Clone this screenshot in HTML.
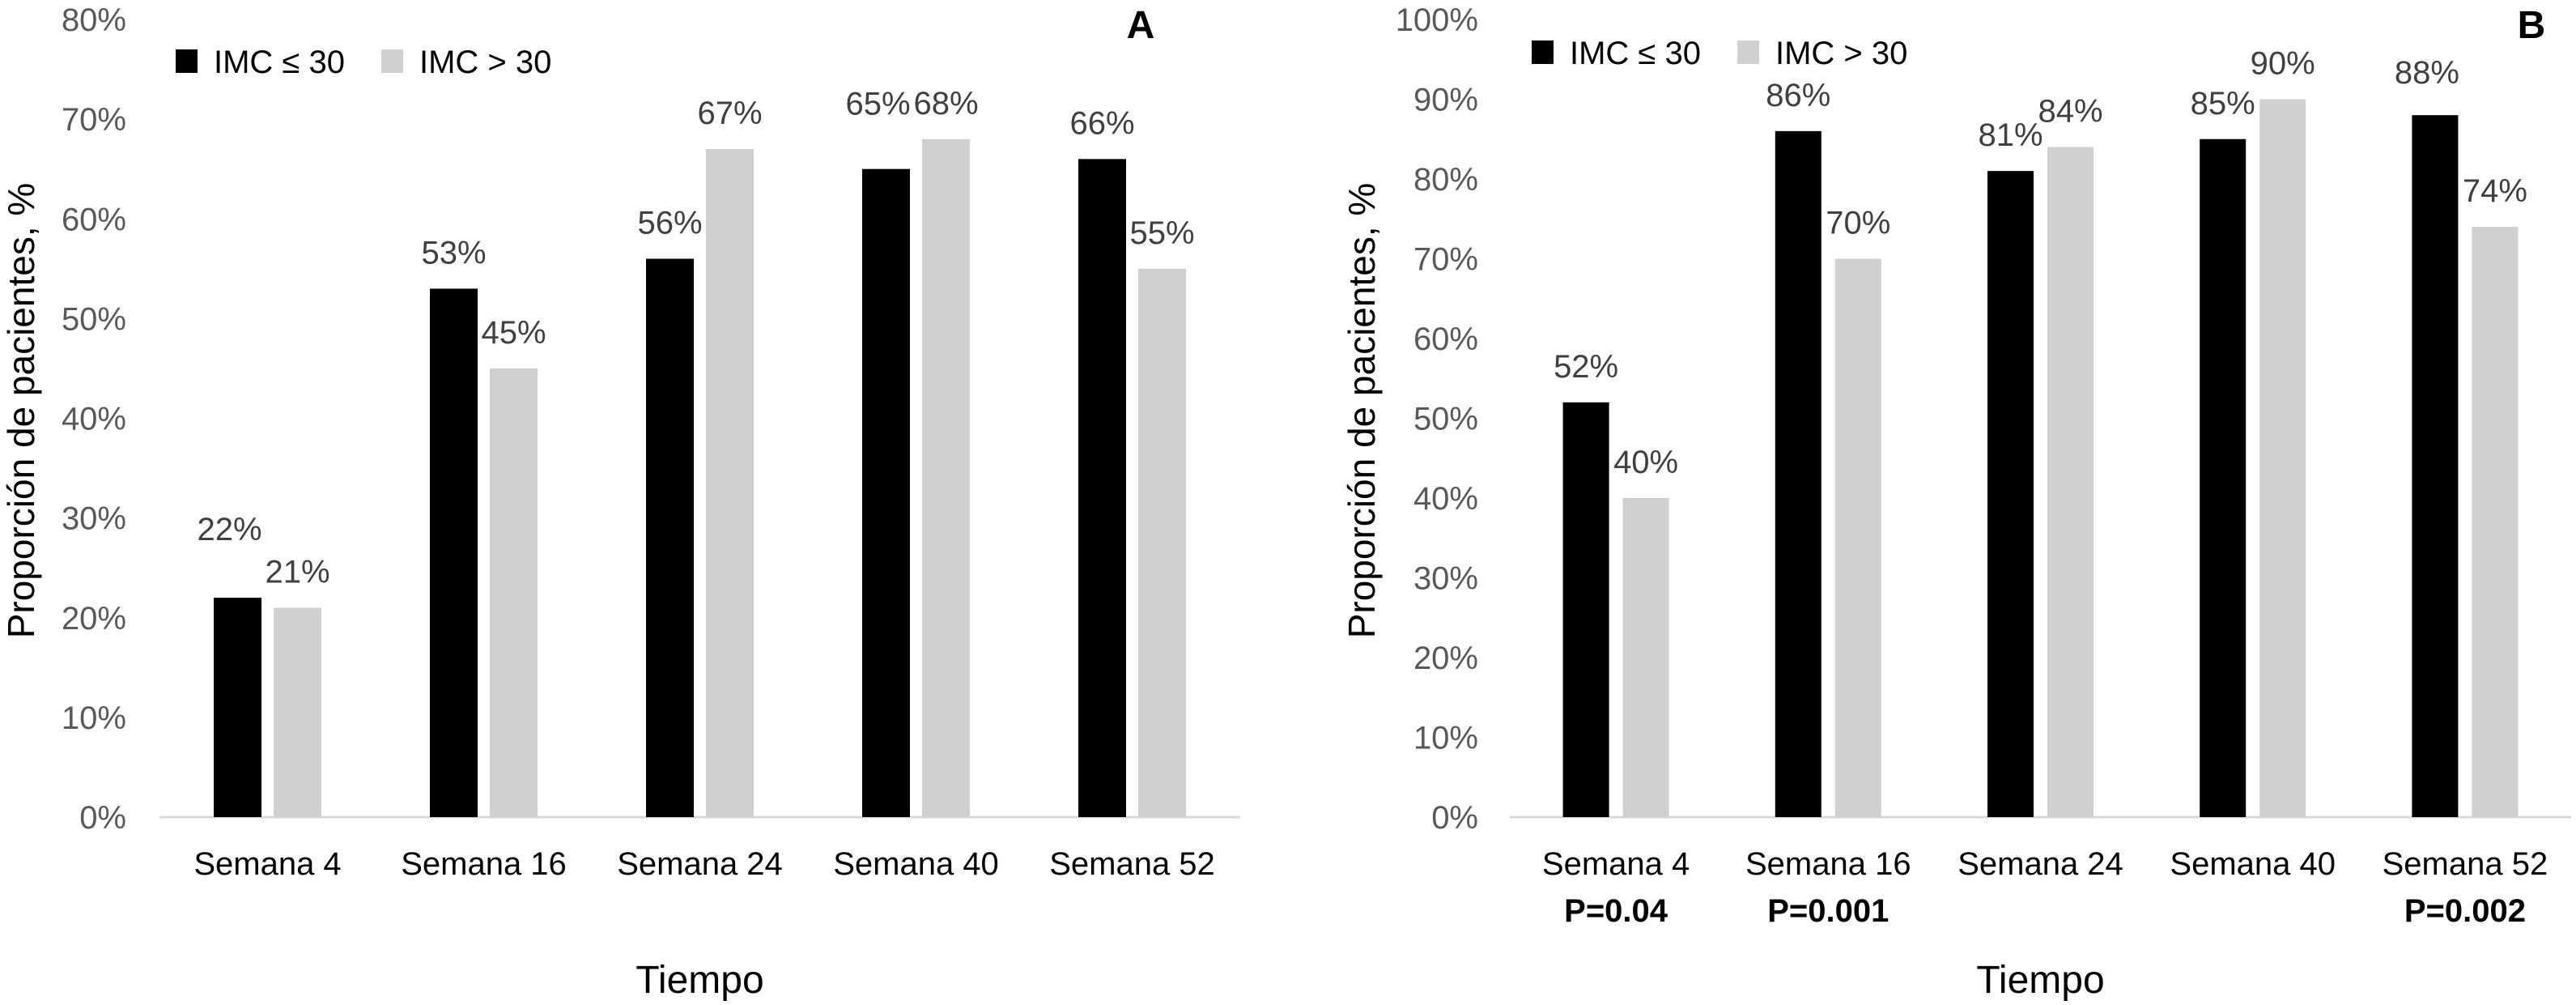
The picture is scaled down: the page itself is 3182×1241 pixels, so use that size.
<!DOCTYPE html>
<html><head><meta charset="utf-8"><style>
body{margin:0;background:#fff}
svg{display:block;font-family:"Liberation Sans",Arial,sans-serif}
</style></head><body>
<svg id="svg" width="3182" height="1241" viewBox="0 0 3182 1241"></svg>
<script>
const categories=["Semana 4","Semana 16","Semana 24","Semana 40","Semana 52"];
const aLow=[22,53,56,65,66];
const aHigh=[21,45,67,68,55];
const bLow=[52,86,81,85,88];
const bHigh=[40,70,84,90,74];
const aTicks=[0,10,20,30,40,50,60,70,80];
const bTicks=[0,10,20,30,40,50,60,70,80,90,100];
const bPvals=["P=0.04","P=0.001","","","P=0.002"];
const legendLabels=["IMC ≤ 30","IMC > 30"];
const NS="http://www.w3.org/2000/svg";
const svg=document.getElementById('svg');
function mk(tag,attrs,parent,text){const e=document.createElementNS(NS,tag);for(const k in attrs)e.setAttribute(k,attrs[k]);if(text!==undefined)e.textContent=text;(parent||svg).appendChild(e);return e;}
function panel(o){
  const g=mk('g',{});
  
  
  const y=v=>o.y0-(v/o.max)*(o.y0-o.yTop);
  const cw=(o.x1-o.x0)/categories.length;
  const cx=i=>o.x0+cw*(i+0.5);
  o.ticks.forEach(t=>{const e=mk('text',{x:o.tickX,y:y(t)+14,'text-anchor':'end','font-size':40,fill:'#595959'},g,t+'%');
    
    });
  const ax=mk('line',{x1:o.x0,x2:o.x1,y1:o.y0,y2:o.y0,stroke:'#d9d9d9','stroke-width':3},g);
  
  
  [[o.low,'#000',-1],[o.high,'#d0d0d0',1]].forEach(([vals,col,s],si)=>{
    vals.forEach((v,i)=>{
      const bx=cx(i)+s*o.off-o.bw/2;
      const r=mk('rect',{x:bx,y:y(v),width:o.bw,height:o.y0-y(v),fill:col},g);
      
      
      const nud=(o.nudge&&si===0)?o.nudge[i]:0;
      const t=mk('text',{x:cx(i)+s*o.off-(nud?10:0),y:y(v)-45+14-nud,'text-anchor':'middle','font-size':40,fill:'#404040'},g,v+'%');
      
      
    });
  });
  categories.forEach((c,i)=>{const t=mk('text',{x:cx(i),y:o.catY,'text-anchor':'middle','font-size':40,fill:'#000'},g,c);
    
    
    if(o.pv&&o.pv[i]){const p=mk('text',{x:cx(i),y:o.catY+58,'text-anchor':'middle','font-size':40,'font-weight':'bold',fill:'#000'},g,o.pv[i]);
      
      }
  });
  const xt=mk('text',{x:(o.x0+o.x1)/2,y:1226,'text-anchor':'middle','font-size':48,fill:'#000'},g,'Tiempo');
  
  
  const yt=mk('text',{x:0,y:0,transform:`translate(${o.ytX},507) rotate(-90)`,'text-anchor':'middle','font-size':46,fill:'#000'},g,'Proporción de pacientes, %');
  
  
  legendLabels.forEach((l,i)=>{
    const lx=o.legX[i];
    const sq=mk('rect',{x:lx,y:o.legY-14,width:27,height:29,fill:i?'#d0d0d0':'#000'},g);
    
    
    const lt=mk('text',{x:lx+47,y:o.legY+15,'font-size':40,fill:'#000'},g,l);
    
    
  });
  const pl=mk('text',{x:o.letterX,y:o.letterY,'text-anchor':'middle','font-size':48,'font-weight':'bold',fill:'#000'},g,o.letter);
  
  
}
panel({name:'chart-a',low:aLow,high:aHigh,ticks:aTicks,max:80,x0:197,x1:1532,y0:1009,yTop:24,tickX:156,bw:59,off:37,catY:1080,ytX:42,legX:[217,471],legY:75,letter:'A',letterX:1409,letterY:47,nudge:[40,0,0,36,0]});
panel({name:'chart-b',low:bLow,high:bHigh,ticks:bTicks,max:100,x0:1865,x1:3176,y0:1009,yTop:24,tickX:1826,bw:57,off:37,catY:1080,ytX:1698,legX:[1892,2146],legY:64,letter:'B',letterX:3127,letterY:47,pv:bPvals,nudge:[0,0,0,0,8]});
</script>
</body></html>
